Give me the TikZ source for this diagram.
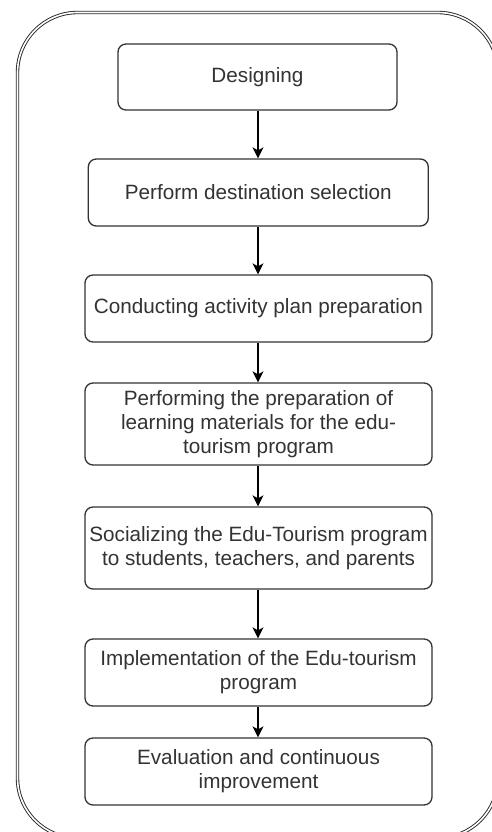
\documentclass[tikz,border=0pt]{standalone}
\usepackage{fontspec}
\setmainfont{Liberation Sans}
\usetikzlibrary{arrows.meta}
\definecolor{boxline}{HTML}{333333}
\definecolor{txt}{HTML}{333333}
\begin{document}
\begin{tikzpicture}[x=1pt,y=-1pt,
  stepbox/.style={draw=boxline, line width=1.3pt, rounded corners=8pt, fill=white,
    inner sep=0pt, align=center, text=txt,
    font=\fontsize{20.7}{24}\selectfont},
  flow/.style={draw=black, line width=1.3pt, -{Stealth[length=11pt,width=11pt,inset=3pt]}},
  frame/.style={draw=black!85, line width=0.9pt, double=white, double distance=1.6pt, rounded corners=60pt}]
\useasboundingbox (0,0) rectangle (492,832);
\clip (0,0) rectangle (492,832);
\fill[white] (0,0) rectangle (492,832);
\draw[frame] (17.5,12.5) rectangle (498,838);
\node[stepbox, minimum width=279pt, minimum height=66pt] (b1) at (257.5,77) {Designing};
\node[stepbox, minimum width=340pt, minimum height=67pt] (b2) at (258.3,192.5) {Perform destination selection};
\node[stepbox, minimum width=347pt, minimum height=67pt] (b3) at (258.5,308.5) {Conducting activity plan preparation};
\node[stepbox, minimum width=347pt, minimum height=82pt] (b4) at (258.5,424) {Performing the preparation of\\learning materials for the edu-\\tourism program};
\node[stepbox, minimum width=347pt, minimum height=82pt] (b5) at (258.5,548) {Socializing the Edu-Tourism program\\to students, teachers, and parents};
\node[stepbox, minimum width=347pt, minimum height=67pt] (b6) at (258.5,672.5) {Implementation of the Edu-tourism\\program};
\node[stepbox, minimum width=347pt, minimum height=67pt] (b7) at (258.5,771.5) {Evaluation and continuous\\improvement};
\draw[flow] (b1.south -| 258,0) -- (b2.north -| 258,0);
\draw[flow] (b2.south -| 258,0) -- (b3.north -| 258,0);
\draw[flow] (b3.south -| 258,0) -- (b4.north -| 258,0);
\draw[flow] (b4.south -| 258,0) -- (b5.north -| 258,0);
\draw[flow] (b5.south -| 258,0) -- (b6.north -| 258,0);
\draw[flow] (b6.south -| 258,0) -- (b7.north -| 258,0);
\end{tikzpicture}
\end{document}
